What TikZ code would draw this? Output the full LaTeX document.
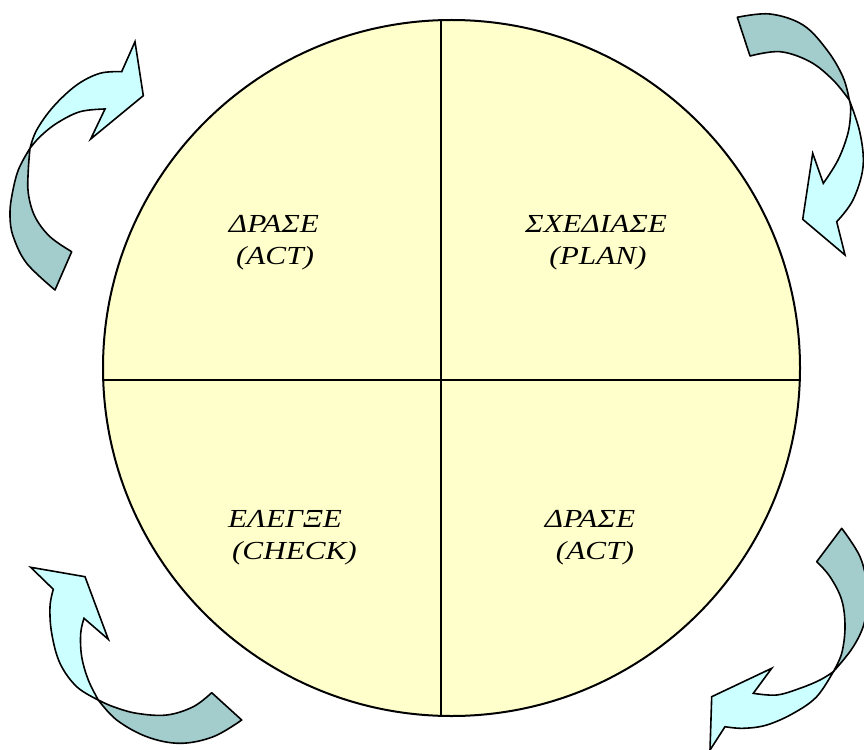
\documentclass[tikz,border=0pt]{standalone}
\usepackage{fontspec}
\setmainfont{Liberation Serif}
\definecolor{discfill}{HTML}{FFFFCC}
\definecolor{bandfront}{HTML}{CCFFFF}
\definecolor{bandback}{HTML}{A3CDCD}
\begin{document}
\begin{tikzpicture}[x=1pt,y=-1pt,
  bandback/.style={fill=bandback,draw=black,line width=1.6pt,line join=round},
  bandfront/.style={fill=bandfront,draw=black,line width=1.6pt,line join=miter},
  divider/.style={draw=black,line width=2pt},
  lbl/.style={font=\fontsize{26}{32}\selectfont\itshape,align=center,inner sep=0pt,xscale=1.2,transform shape}]
\useasboundingbox (0,0) rectangle (864,749);
\clip (0,0) rectangle (864,749);
% disc
\path[fill=discfill,draw=black,line width=2pt] (451.5,368) ellipse [x radius=348.5pt,y radius=348pt];
\coordinate (vtop) at (441,20.2);
\coordinate (vbot) at (441,715.8);
\coordinate (hleft) at (103.2,380);
\coordinate (hright) at (799.8,380);
\draw[divider] (vtop) -- (vbot);
\draw[divider] (hleft) -- (hright);
% labels
\node[lbl] (actA) at (274,243) {ΔΡΑΣΕ\\\hspace*{1.7pt}(ACT)};
\node[lbl] (plan) at (596,243) {ΣΧΕΔΙΑΣΕ\\\hspace*{3.3pt}(PLAN)};
\node[lbl] (check) at (285,537.5) {ΕΛΕΓΞΕ\\\hspace*{15.8pt}(CHECK)};
\node[lbl] (actB) at (590,537.5) {ΔΡΑΣΕ\\\hspace*{8.3pt}(ACT)};
% top-left arrow
\path[bandback] (30,148.3) -- plot[smooth,tension=0.6] coordinates {(30,148.3) (18.3,170) (11.7,196.7) (10,216.7) (13.3,236.7) (26.7,263.3) (55,290)}
  -- (71.7,251.7) -- plot[smooth,tension=0.6] coordinates {(71.7,251.7) (50,236.7) (35,216.7) (28.3,193.3) (28.3,170) (30,148.3)} -- cycle;
\path[bandfront] (30,148.3) -- plot[smooth,tension=0.6] coordinates {(30,148.3) (36.7,130) (53.3,106.7) (76.7,85) (100,73.3) (121.7,71.7)}
  -- (135,41.7) -- (143.3,95.7) -- (90.7,139) -- (105,109)
  -- plot[smooth,tension=0.6] coordinates {(105,109) (80,111.7) (56.7,123.3) (40,136.7) (30,148.3)} -- cycle;
% top-right arrow
\path[bandback] (737.3,17.3) -- plot[smooth,tension=0.6] coordinates {(737.3,17.3) (770,14) (803,25) (827,50) (843,77) (849.3,100)}
  -- plot[smooth,tension=0.6] coordinates {(849.3,100) (833,80) (810,61.7) (780,51.7) (750,56)} -- cycle;
\path[bandfront] (849.3,100) -- plot[smooth,tension=0.6] coordinates {(849.3,100) (860,133) (863,167) (853,200) (836.7,221.7)}
  -- (845,255) -- (802.7,219.3) -- (812.7,153.3) -- (823.3,183.3)
  -- plot[smooth,tension=0.6] coordinates {(823.3,183.3) (838,160) (848,133) (850.7,110) (849.3,100)} -- cycle;
% bottom-left arrow
\path[bandback] (98.3,700) -- plot[smooth,tension=0.6] coordinates {(98.3,700) (116.7,720) (146.7,736.7) (180,743.3) (213.3,736.7) (241.7,720)}
  -- (211.7,692.7) -- plot[smooth,tension=0.6] coordinates {(211.7,692.7) (193.3,706.7) (166.7,715) (136.7,713.3) (113.3,706.7) (98.3,700)} -- cycle;
\path[bandfront] (98.3,700) -- plot[smooth,tension=0.6] coordinates {(98.3,700) (76.7,686.7) (60,663.3) (51.7,633.3) (50,606.7) (53.3,589.3)}
  -- (30.7,567.3) -- (85,576.7) -- (108.3,639.3) -- (84,618.3)
  -- plot[smooth,tension=0.6] coordinates {(84,618.3) (80.7,633.3) (81.7,656.7) (88.3,680) (98.3,700)} -- cycle;
% bottom-right arrow
\path[bandback] (841.7,528.3) -- plot[smooth,tension=0.6] coordinates {(841.7,528.3) (860,556.7) (866.7,586.7) (865,620) (853.3,646.7) (833.3,671.7)}
  -- plot[smooth,tension=0.6] coordinates {(833.3,671.7) (841.7,653.3) (845,626.7) (841.7,600) (830,576.7) (816.7,561.7)} -- cycle;
\path[bandfront] (833.3,671.7) -- plot[smooth,tension=0.6] coordinates {(833.3,671.7) (816.7,696.7) (793.3,713.3) (766.7,725) (743.3,728.3) (725,726.7)}
  -- (710,750) -- (711.7,696.7) -- (771.7,668.3) -- (753.3,693.3)
  -- plot[smooth,tension=0.6] coordinates {(753.3,693.3) (776.7,695) (800,688.3) (820,680) (833.3,671.7)} -- cycle;
\end{tikzpicture}
\end{document}
